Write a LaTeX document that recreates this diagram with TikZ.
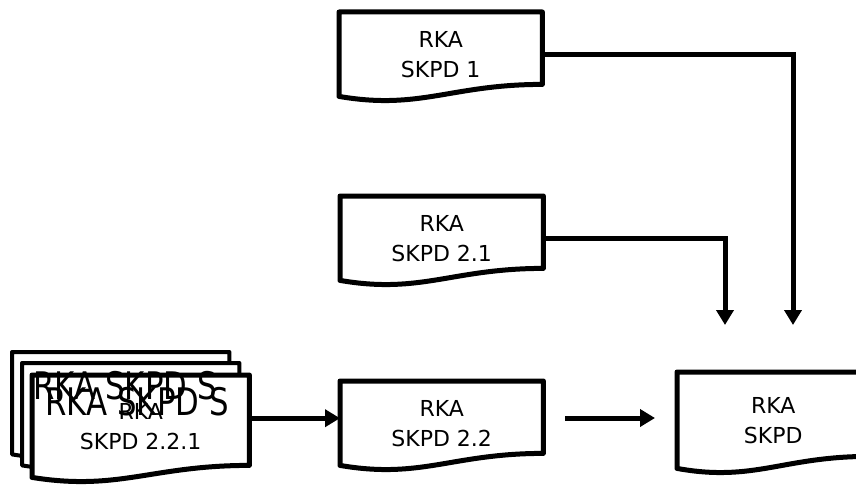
\documentclass[tikz,border=0pt]{standalone}
\usepackage{fontspec}
\setmainfont{DejaVu Sans}
\usepackage{tikz}
\usetikzlibrary{calc,arrows.meta}

% outline of a document symbol, drawn round a named node
\newcommand{\docpath}[2][]{%
  \draw[docline,#1] (#2.north west) -- (#2.north east) -- ($(#2.south east)+(0,-12)$)
    .. controls ($(#2.south west)!0.55!(#2.south east)+(0,-12)$) and ($(#2.south west)!0.40!(#2.south east)+(0,14)$) .. (#2.south west) -- cycle;}

\tikzset{
  docline/.style={line width=5pt, line join=round},
  docbox/.style={anchor=north west, inner sep=0pt, minimum width=203pt, minimum height=84pt,
                 align=center, font=\fontsize{22}{30}\selectfont},
  pagebox/.style={anchor=north west, inner sep=0pt, minimum width=217pt, minimum height=102pt},
  garble/.style={inner sep=0pt, font=\fontsize{38}{38}\selectfont, xscale=0.81, transform shape},
  flow/.style={line width=5pt, -{Triangle[length=15pt,width=17pt]}}
}

\begin{document}
\begin{tikzpicture}[x=1pt,y=-1pt]
                \useasboundingbox (0,0) rectangle (856,492);

                % upper sources
                \node[docbox] (skpd1) at (339,12) {RKA\\SKPD 1};
                \docpath{skpd1}
                \node[docbox] (skpd21) at (340,196) {RKA\\SKPD 2.1};
                \docpath{skpd21}

                % stack of sub documents
                \node[pagebox] (pageA) at (12,352) {};
                \docpath[fill=white, line width=4pt]{pageA}
                \node[pagebox] (pageB) at (22,363) {};
                \docpath[fill=white, line width=4pt]{pageB}
                \node[pagebox] (pageC) at (32,375) {};
                \docpath[fill=white]{pageC}
                \node[garble] (overA) at (125,386) {RKA SKPD S};
                \node[garble] (overB) at (137,402) {RKA SKPD S};
                \node[align=center, inner sep=0pt, font=\fontsize{22}{30}\selectfont] (stacktxt) at (pageC) {RKA\\SKPD 2.2.1};

                % middle and target documents
                \node[docbox] (skpd22) at (340,381) {RKA\\SKPD 2.2};
                \docpath{skpd22}
                \node[docbox, minimum width=192pt, minimum height=96pt] (skpd) at (677,372) {RKA\\SKPD};
                \docpath{skpd}

                % free arrow ends
                \coordinate (endA) at (793,325);
                \coordinate (endB) at (725,325);
                \coordinate (gapL) at (565,418);
                \coordinate (gapR) at (655,418);

                % arrows
                \draw[flow] (skpd1.east) -| (endA);
                \draw[flow] (skpd21.east) -| (endB);
                \draw[flow] ([yshift=8pt]pageC.east) -- ([yshift=5pt]skpd22.west);
                \draw[flow] (gapL) -- (gapR);
            \end{tikzpicture}
\end{document}
